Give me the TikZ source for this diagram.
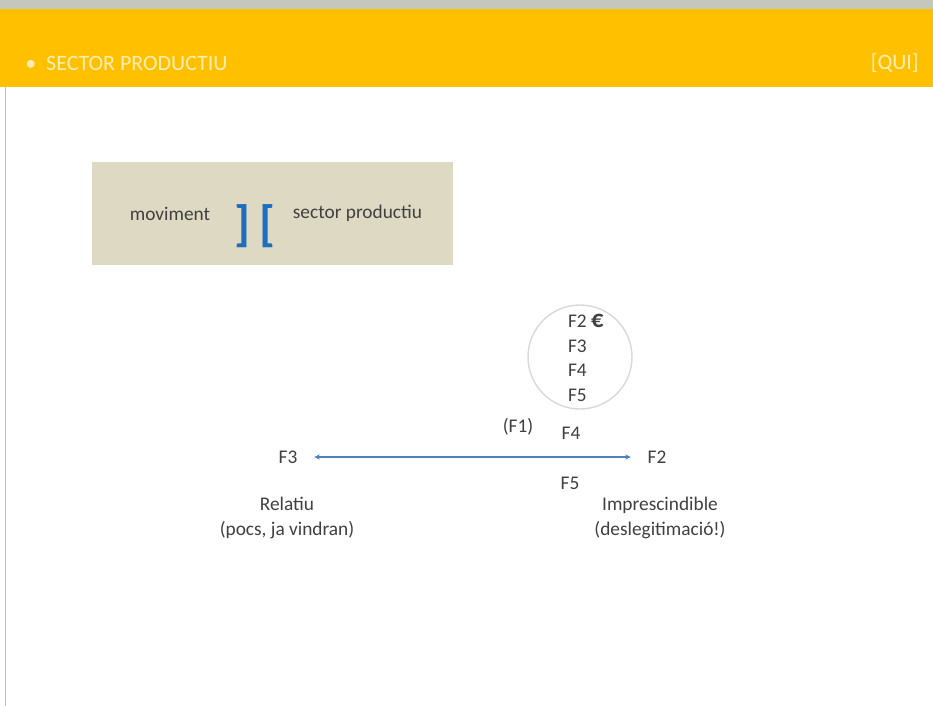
\documentclass[tikz,border=0pt]{standalone}
\usepackage{fontspec}
\setmainfont{Carlito}
\usepackage{tikz}
\usetikzlibrary{positioning,arrows.meta,calc}
\definecolor{bandyellow}{RGB}{255,192,0}
\definecolor{titletext}{RGB}{255,238,180}
\definecolor{boxgray}{RGB}{221,217,195}
\definecolor{bracketblue}{RGB}{31,110,190}
\definecolor{lineblue}{RGB}{79,129,189}
\definecolor{ink}{RGB}{64,64,64}
\definecolor{topstrip}{RGB}{196,200,188}

\begin{document}
\begin{tikzpicture}[font=\fontsize{11}{13}\selectfont, text=ink,
      lbl/.style={inner sep=1pt},
      two/.style={inner sep=1pt, align=center, font=\fontsize{11}{14.5}\selectfont},
      head/.style={text=titletext, font=\fontsize{12.5}{14}\selectfont, inner sep=0pt}]
      \useasboundingbox (0,0) rectangle (18.66,-14.12);
      % slide frame
      \fill[white] (0,0) rectangle (18.66,-14.12);
      \fill[topstrip] (0,0) rectangle (18.66,-0.18);
      \fill[bandyellow] (0,-0.18) rectangle (18.66,-1.74);
      \draw[gray!60!blue!40, line width=1pt] (0.11,-1.74) -- (0.11,-14.12);
      \node[head, anchor=west] (title) at (0.5,-1.26) {\textbullet\ \ SECTOR PRODUCTIU};
      \node[head, anchor=east] (qui) at (18.38,-1.26) {[QUI]};
      % box
      \fill[boxgray] (1.84,-3.24) rectangle (9.06,-5.30);
      \node[lbl] (mov) at (3.40,-4.27) {moviment};
      \node[lbl, text=bracketblue, font=\fontsize{28}{28}\selectfont\bfseries] (brk) at (5.10,-4.52) {]\,[};
      \node[lbl] (sec) at (7.15,-4.27) {sector productiu};
      % circle
      \draw[gray!30, line width=0.8pt] (11.60,-7.14) circle (1.04);
      \node[lbl, anchor=west] (c2) at (11.32,-6.42) {F2 \fontsize{14}{14}\selectfont\bfseries €};
      \node[lbl, anchor=west] (c3) at (11.32,-6.92) {F3};
      \node[lbl, anchor=west] (c4) at (11.32,-7.40) {F4};
      \node[lbl, anchor=west] (c5) at (11.32,-7.90) {F5};
      % axis
      \node[lbl] (f1) at (10.36,-8.54) {(F1)};
      \node[lbl] (f4) at (11.42,-8.66) {F4};
      \node[lbl] (f3) at (5.76,-9.14) {F3};
      \node[lbl] (f2) at (13.14,-9.14) {F2};
      \node[lbl] (f5) at (11.40,-9.66) {F5};
      \draw[lineblue, line width=0.7pt, shorten <=0.3cm, shorten >=0.3cm,
        {Stealth[length=3pt,width=3pt]}-{Stealth[length=3pt,width=3pt]}] (f3) -- (f2);
      \node[two] (rel) at (5.74,-10.36) {Relatiu\\(pocs, ja vindran)};
      \node[two] (imp) at (13.20,-10.36) {Imprescindible\\(deslegitimació!)};
    \end{tikzpicture}
\end{document}
